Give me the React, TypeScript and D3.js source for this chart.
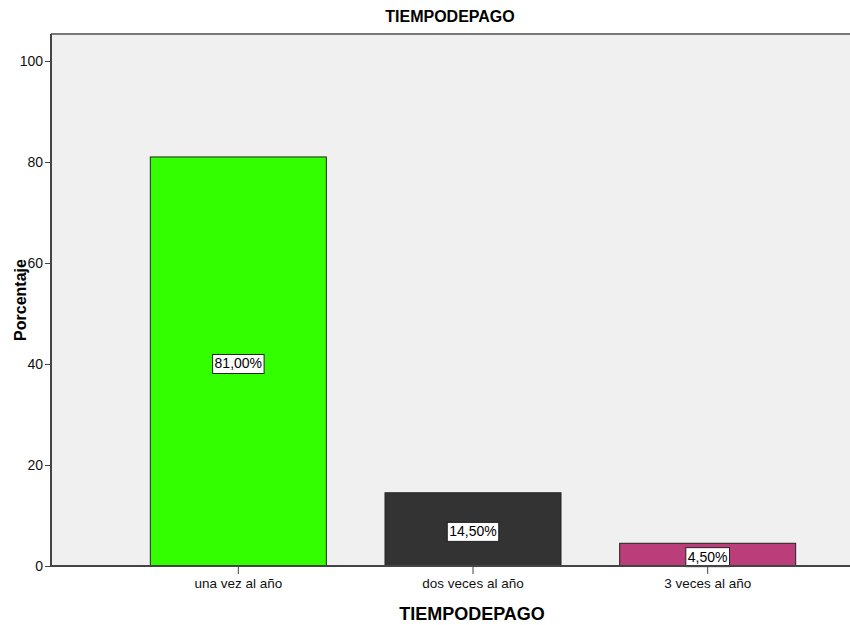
import React, { useEffect, useRef } from 'react';
import * as d3 from 'd3';

const categories = ['una vez al año', 'dos veces al año', '3 veces al año'];
const values = [81.0, 14.5, 4.5];
const labels = ['81,00%', '14,50%', '4,50%'];
const colors = ['#33ff00', '#333333', '#bb3d7a'];
const yTicks = [0, 20, 40, 60, 80, 100];

const W = 850;
const H = 625;
const FONT = '"Liberation Sans", Arial, sans-serif';

export default function App() {
  const ref = useRef<SVGSVGElement>(null);

  useEffect(() => {
    const svg = d3.select(ref.current);
    svg.selectAll('*').remove();

    const left = 51, top = 34, bottom = 566, right = 850;

    const x = d3.scaleBand<string>()
      .domain(categories)
      .range([121, 825])
      .paddingInner(0.25)
      .paddingOuter(0.125);
    const y = d3.scaleLinear().domain([0, 100]).range([bottom, 61]);

    svg.append('rect')
      .attr('x', left).attr('y', top)
      .attr('width', right - left).attr('height', bottom - top)
      .attr('fill', '#f0f0f0');

    // bars
    svg.selectAll('.bar')
      .data(values)
      .enter().append('rect')
      .attr('class', 'bar')
      .attr('x', (d, i) => x(categories[i])!)
      .attr('width', x.bandwidth())
      .attr('y', d => y(d))
      .attr('height', d => bottom - y(d))
      .attr('fill', (d, i) => colors[i])
      .attr('stroke', '#222')
      .attr('stroke-width', 1);

    // value labels
    values.forEach((v, i) => {
      const cx = x(categories[i])! + x.bandwidth() / 2;
      const cy = Math.max(y(v / 2), y(v / 2) + 2);
      const g = svg.append('g');
      const t = g.append('text')
        .attr('x', cx).attr('y', cy)
        .attr('text-anchor', 'middle')
        .attr('dominant-baseline', 'central')
        .attr('font-family', FONT)
        .attr('font-size', 14)
        .attr('fill', '#000')
        .text(labels[i]);
      const bb = (t.node() as SVGTextElement).getBBox();
      g.insert('rect', 'text')
        .attr('x', bb.x - 2).attr('y', cy - 9)
        .attr('width', bb.width + 4).attr('height', 19)
        .attr('fill', '#fff')
        .attr('stroke', '#222');
    });

    // top border
    svg.append('line')
      .attr('x1', left).attr('x2', right)
      .attr('y1', top).attr('y2', top)
      .attr('stroke', '#777').attr('stroke-width', 2);

    // y axis
    const ya = svg.append('g')
      .attr('transform', `translate(${left},0)`)
      .call(d3.axisLeft(y).tickValues(yTicks).tickSize(6).tickPadding(2));
    ya.select('.domain').remove();
    ya.append('line')
      .attr('x1', 0).attr('x2', 0).attr('y1', top).attr('y2', bottom)
      .attr('stroke', '#444').attr('stroke-width', 2);
    ya.selectAll('.tick line').attr('stroke', '#444');
    ya.selectAll('.tick text')
      .attr('font-family', FONT).attr('font-size', 14).attr('fill', '#111');

    // x axis
    const xa = svg.append('g')
      .attr('transform', `translate(0,${bottom})`)
      .call(d3.axisBottom(x).tickSize(8).tickPadding(4));
    xa.select('.domain').remove();
    xa.append('line')
      .attr('x1', left).attr('x2', right).attr('y1', 0).attr('y2', 0)
      .attr('stroke', '#444').attr('stroke-width', 2);
    xa.selectAll('.tick line').attr('stroke', '#444');
    xa.selectAll('.tick text')
      .attr('font-family', FONT).attr('font-size', 13.5).attr('fill', '#111');

    // titles
    svg.append('text')
      .attr('x', 450).attr('y', 22)
      .attr('text-anchor', 'middle')
      .attr('font-family', FONT).attr('font-weight', 'bold').attr('font-size', 16)
      .text('TIEMPODEPAGO');

    svg.append('text')
      .attr('x', 472).attr('y', 620)
      .attr('text-anchor', 'middle')
      .attr('font-family', FONT).attr('font-weight', 'bold').attr('font-size', 18)
      .text('TIEMPODEPAGO');

    svg.append('text')
      .attr('transform', `translate(26,300) rotate(-90)`)
      .attr('text-anchor', 'middle')
      .attr('font-family', FONT).attr('font-weight', 'bold').attr('font-size', 16)
      .text('Porcentaje');
  }, []);

  return (
    <svg ref={ref} width={W} height={H}
      style={{ position: 'absolute', left: 0, top: 0, background: '#fff' }} />
  );
}
